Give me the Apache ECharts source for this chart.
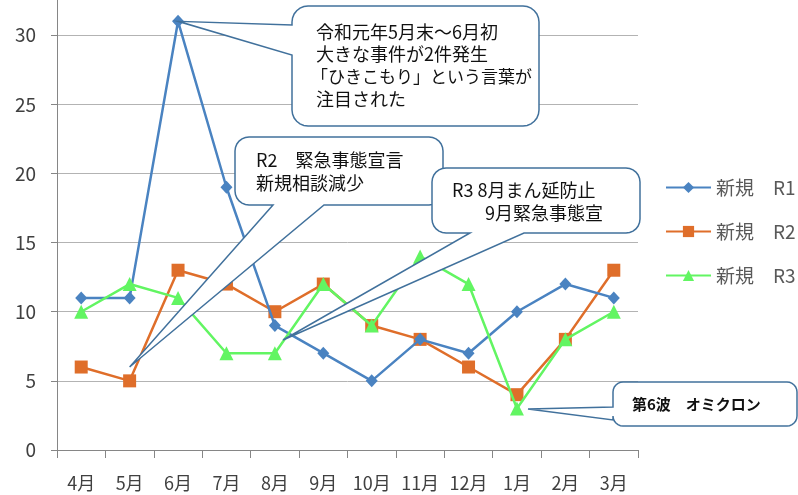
<!DOCTYPE html>
<html>
<head>
<meta charset="utf-8">
<script src="https://cdn.jsdelivr.net/npm/echarts@6/dist/echarts.min.js"></script>
<style>
  html, body { margin: 0; padding: 0; background: #fff; }
  #charts { width: 798px; height: 495px; }
</style>
</head>
<body>
<div id="charts"></div>
<script type="text/javascript">
    // 月
    var months = ['4月', '5月', '6月', '7月', '8月', '9月', '10月', '11月', '12月', '1月', '2月', '3月'];
    // 新規相談件数
    var r1 = [11, 11, 31, 19, 9, 7, 5, 8, 7, 10, 12, 11];
    var r2 = [6, 5, 13, 12, 10, 12, 9, 8, 6, 4, 8, 13];
    var r3 = [10, 12, 11, 7, 7, 12, 9, 14, 12, 3, 8, 10];
    var seriesNames = ['新規　R1', '新規　R2', '新規　R3'];
    // y軸
    var yMin = 0, yMax = 35, yStep = 5;

    var font = '"Noto Sans CJK JP", "Noto Sans", sans-serif';
    var myChart = echarts.init(document.getElementById('charts'));

    var option = {
        backgroundColor: '#fff',
        animation: false,
        textStyle: { fontFamily: font },
        grid: {
            left: 57,
            right: 160,
            top: -34,
            bottom: 45,
            containLabel: false,
            outerBoundsMode: 'none'
        },
        legend: {
            orient: 'vertical',
            left: 660,
            top: 173,
            itemWidth: 45,
            itemHeight: 14,
            itemGap: 25,
            textStyle: { fontSize: 19, color: '#595959', fontFamily: font },
            data: seriesNames
        },
        xAxis: {
            type: 'category',
            data: months,
            boundaryGap: true,
            axisLine: { lineStyle: { color: '#868686', width: 1 } },
            axisTick: { show: true, interval: 0, length: 8, lineStyle: { color: '#868686' } },
            axisLabel: { interval: 0, margin: 24, fontSize: 18, color: '#404040', fontFamily: font }
        },
        yAxis: {
            type: 'value',
            min: yMin,
            max: yMax,
            interval: yStep,
            axisLine: { show: true, lineStyle: { color: '#868686', width: 1 } },
            axisTick: { show: true, length: 6, lineStyle: { color: '#868686' } },
            axisLabel: { margin: 21, fontSize: 19, color: '#404040', fontFamily: font },
            splitLine: { show: true, lineStyle: { color: '#b3b3b3', width: 1 } }
        },
        series: [
            {
                name: seriesNames[0],
                type: 'line',
                data: r1,
                symbol: 'diamond',
                symbolSize: [12, 13],
                itemStyle: { color: '#4a83c1' },
                lineStyle: { color: '#4a83c1', width: 2.5 },
                z: 3
            },
            {
                name: seriesNames[1],
                type: 'line',
                data: r2,
                symbol: 'rect',
                symbolSize: 13,
                itemStyle: { color: '#df6e2a' },
                lineStyle: { color: '#df6e2a', width: 2.5 },
                z: 2
            },
            {
                name: seriesNames[2],
                type: 'line',
                data: r3,
                symbol: 'triangle',
                symbolSize: 14,
                itemStyle: { color: '#62f562' },
                lineStyle: { color: '#62f562', width: 2.5 },
                z: 4
            }
        ]
    };
    myChart.setOption(option);

    // 吹き出しの輪郭（角丸四角＋くさび）
    function calloutPoints(x, y, w, h, r, edge, a, b, tip) {
        var pts = [];
        var R = x + w, B = y + h;
        function corner(cx, cy, start) {
            for (var i = 0; i <= 6; i++) {
                var ang = (start + i * 15) * Math.PI / 180;
                pts.push([cx + r * Math.cos(ang), cy + r * Math.sin(ang)]);
            }
        }
        corner(x + r, y + r, 180);
        corner(R - r, y + r, 270);
        corner(R - r, B - r, 0);
        if (edge === 'bottom') {
            pts.push([b, B], tip, [a, B]);
        }
        corner(x + r, B - r, 90);
        if (edge === 'left') {
            pts.push([x, b], tip, [x, a]);
        }
        return pts;
    }

    function box(pts) {
        return {
            type: 'polygon',
            shape: { points: pts },
            style: { fill: '#fff', stroke: '#41719c', lineWidth: 1.5 },
            z: 100
        };
    }

    function label(x, y, text, size, weight) {
        return {
            type: 'text',
            x: x,
            y: y,
            style: {
                text: text,
                fontSize: size,
                fontWeight: weight || 'normal',
                fontFamily: font,
                fill: '#111',
                verticalAlign: 'middle'
            },
            z: 101
        };
    }

    var tip1 = myChart.convertToPixel({ seriesIndex: 0 }, [2, r1[2]]);
    var tip2 = myChart.convertToPixel({ seriesIndex: 1 }, [1, 6]);

    myChart.setOption({
        graphic: [
            box(calloutPoints(292, 6, 247, 120, 16, 'left', 25, 55, tip1)),
            label(316, 32, '令和元年5月末～6月初', 18),
            label(316, 54, '大きな事件が2件発生', 18),
            label(311, 77, '「ひきこもり」という言葉が', 17),
            label(316, 99, '注目された', 18),

            box(calloutPoints(235, 137, 208, 68, 14, 'bottom', 273, 324, tip2)),
            label(256, 160, 'R2　緊急事態宣言', 18),
            label(256, 183, '新規相談減少', 18),

            box(calloutPoints(432, 168, 208, 65, 14, 'bottom', 470, 524, [283, 340])),
            label(452, 190, 'R3 8月まん延防止', 18),
            label(485, 213, '9月緊急事態宣', 18),

            box(calloutPoints(613, 382, 184, 44, 10, 'left', 407, 420, [528, 409])),
            label(632, 404, '第6波　オミクロン', 15, 'bold')
        ]
    });
</script>
</body>
</html>
